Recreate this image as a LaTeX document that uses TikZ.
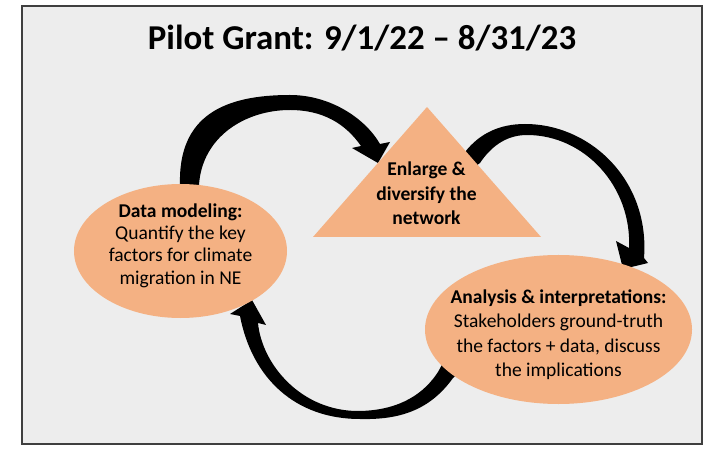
\documentclass[tikz,border=0pt]{standalone}
\usepackage{fontspec}
\setmainfont{Carlito}
\usetikzlibrary{shapes.geometric}
\definecolor{peachc}{HTML}{F4B183}
\definecolor{bggray}{HTML}{EDEDED}
\definecolor{framec}{HTML}{3F3F3F}
\tikzset{
  lbl/.style={anchor=base, inner sep=0pt, text=black, font=\fontsize{19.6}{22}\selectfont},
  lblb/.style={anchor=base, inner sep=0pt, text=black, font=\fontsize{19.6}{22}\selectfont\bfseries},
  titlestyle/.style={anchor=base, inner sep=0pt, text=black, font=\fontsize{35}{40}\selectfont\bfseries},
  bubble/.style={ellipse, fill=peachc, draw=none, inner sep=0pt},
  band/.style={fill=black, draw=none}
}
\begin{document}
\begin{tikzpicture}[x=1bp,y=-1bp]
\useasboundingbox (0,0) rectangle (709,449);
\draw[framec, line width=1.6bp, fill=bggray] (22,6) rectangle (702,444);
\node[titlestyle] (title) at (362,50) {Pilot Grant: 9/1/22 – 8/31/23};

% arrows (behind shapes)
\fill[band] (180,200) -- (180,185)
  .. controls (178,115) and (225,95) .. (290,95)
  .. controls (330,95) and (365,118) .. (380,144)
  -- (390,142) -- (378,163) -- (352,148) -- (361,146)
  .. controls (345,123) and (322,110) .. (290,110)
  .. controls (245,110) and (202,137) .. (199,185)
  -- (199,200) -- cycle;
\fill[band] (460,158) -- (465,152)
  .. controls (480,133) and (500,124) .. (525,124)
  .. controls (590,124) and (650,180) .. (644,258)
  -- (648,263) -- (623,269) -- (616,241) -- (629,248)
  .. controls (632,187) and (585,135) .. (527,135)
  .. controls (505,135) and (490,148) .. (480,163)
  -- (470,170) -- cycle;
\fill[band] (470,362) -- (453,378)
  .. controls (430,410) and (400,420) .. (360,419)
  .. controls (295,419) and (252,378) .. (240,316)
  -- (230,314) -- (252,300) -- (266,325) -- (258,323)
  .. controls (262,365) and (302,412) .. (360,411)
  .. controls (402,410) and (425,392) .. (438,372)
  -- (450,350) -- cycle;

% shapes
\node[bubble, minimum width=213bp, minimum height=134bp] (dm) at (180.5,251) {};
\node[bubble, minimum width=267bp, minimum height=149bp] (ai) at (558.5,329.5) {};
\fill[peachc] (427,107) coordinate (apex) -- (541,237) coordinate (br) -- (313,237) coordinate (bl) -- cycle;

% texts
\node[lblb] (dm1) at (180.5,217.3) {Data modeling:};
\node[lbl]  (dm2) at (180.5,239.5) {Quantify the key};
\node[lbl]  (dm3) at (180.5,261.8) {factors for climate};
\node[lbl]  (dm4) at (180.5,284.1) {migration in NE};

\node[lblb] (nw1) at (426.5,176) {Enlarge \&};
\node[lblb] (nw2) at (426.5,200.5) {diversify the};
\node[lblb] (nw3) at (426.5,225) {network};

\node[lblb] (ai1) at (558.5,303.3) {Analysis \& interpretations:};
\node[lbl]  (ai2) at (558.5,327.7) {Stakeholders ground-truth};
\node[lbl]  (ai3) at (558.5,352.2) {the factors + data, discuss};
\node[lbl]  (ai4) at (558.5,376.7) {the implications};
\end{tikzpicture}
\end{document}
